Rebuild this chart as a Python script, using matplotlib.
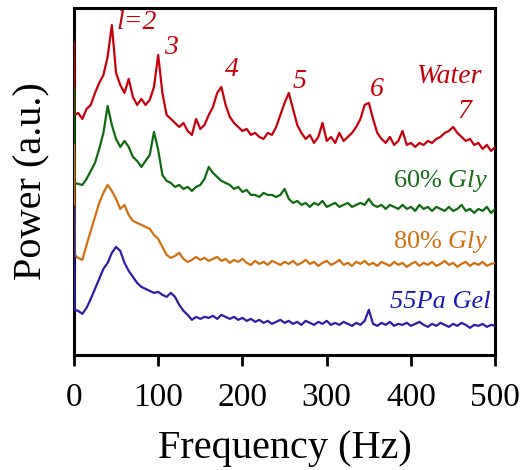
import numpy as np
import matplotlib
matplotlib.use('Agg')
import matplotlib.pyplot as plt

plt.rcParams['font.family'] = ['Liberation Serif', 'DejaVu Serif']
plt.rcParams['mathtext.fontset'] = 'custom'
plt.rcParams['mathtext.rm'] = 'Liberation Serif'
plt.rcParams['mathtext.it'] = 'Liberation Serif:italic'

# frequency grid (Hz): DC point, 1 Hz, then every 5 Hz
freq = np.concatenate([[0.0, 1.0], np.arange(5, 501, 5)])

# power spectra (a.u., already offset for stacking)
water = [313, 240,
         242, 236, 246, 250, 262, 272, 280, 298, 330, 282,
         270, 262, 276, 258, 250, 256, 250, 255, 268, 300,
         262, 240, 236, 232, 228, 232, 224, 220, 236, 226,
         230, 240, 248, 262, 268, 250, 238, 232, 228, 224,
         226, 220, 222, 218, 216, 222, 220, 228, 240, 252,
         262, 246, 230, 222, 216, 220, 212, 218, 232, 214,
         218, 212, 222, 214, 218, 222, 228, 236, 250, 252,
         236, 222, 216, 212, 218, 210, 214, 224, 210, 212,
         208, 212, 210, 214, 212, 216, 218, 222, 224, 228,
         222, 218, 214, 216, 210, 212, 206, 210, 204, 208]
gly60 = [268, 172,
         171, 170, 176, 184, 192, 206, 222, 249, 230, 216,
         208, 214, 208, 198, 194, 188, 194, 200, 223, 205,
         180, 174, 172, 168, 170, 166, 168, 164, 168, 170,
         176, 188, 182, 178, 174, 172, 170, 166, 168, 163,
         165, 160, 160, 158, 162, 160, 160, 158, 160, 166,
         156, 152, 154, 150, 152, 148, 152, 150, 154, 148,
         150, 152, 148, 150, 152, 148, 150, 152, 150, 156,
         150, 148, 150, 146, 150, 148, 146, 150, 146, 148,
         144, 150, 146, 148, 144, 148, 146, 144, 148, 144,
         146, 150, 144, 146, 142, 146, 144, 148, 142, 146]
gly80 = [210, 100,
         97, 95, 110, 124, 138, 152, 162, 170, 164, 156,
         146, 150, 140, 134, 132, 130, 128, 126, 120, 116,
         108, 100, 97, 99, 102, 96, 93, 95, 98, 95,
         97, 94, 96, 98, 94, 96, 92, 95, 93, 96,
         92, 90, 94, 91, 93, 90, 94, 92, 90, 93,
         91, 94, 90, 92, 95, 91, 93, 89, 92, 94,
         90, 92, 95, 90, 92, 89, 93, 91, 94, 90,
         92, 89, 93, 91, 89, 93, 90, 92, 88, 91,
         93, 89, 92, 90, 93, 89, 91, 94, 90, 92,
         88, 91, 93, 89, 92, 90, 93, 89, 91, 92]
gel55 = [148, 45,
         44, 41, 47, 56, 66, 76, 86, 92, 102, 108,
         104, 92, 84, 78, 72, 68, 66, 64, 62, 63,
         60, 58, 62, 58, 50, 44, 40, 35, 38, 36,
         38, 37, 39, 36, 40, 38, 36, 38, 35, 37,
         34, 36, 33, 35, 32, 34, 31, 33, 35, 32,
         34, 31, 33, 30, 34, 32, 30, 33, 31, 34,
         30, 32, 30, 33, 31, 29, 32, 30, 34, 45,
         31, 29, 32, 30, 33, 29, 31, 30, 32, 29,
         31, 33, 30, 28, 31, 29, 32, 30, 28, 31,
         29, 32, 30, 27, 30, 29, 31, 28, 30, 29]

series = [water, gly60, gly80, gel55]
colorsToUse = ['#c8000c', '#106a10', '#d2700c', '#2a1ea8']

# mode labels on the water spectrum
modeLabels = ['l=2', '3', '4', '5', '6', '7']
modeX = [51, 115, 187, 268, 360, 463]
modeY = [332, 307, 285, 273, 265, 243]
modeHa = ['left', 'center', 'center', 'center', 'center', 'center']

fig = plt.figure(figsize=(5.28, 4.70), dpi=100)
ax = fig.add_axes([0.140, 0.245, 0.798, 0.738])

for vals, c in zip(series, colorsToUse):
    ax.plot(freq, vals, color=c, lw=1.6, zorder=3)

for lab, mx, my, ha in zip(modeLabels, modeX, modeY, modeHa):
    ax.text(mx, my, lab, color='#c8000c', fontsize=20, style='italic',
            ha=ha, va='center')

ax.text(484, 278, 'Water', color='#c8000c', fontsize=20, style='italic',
        ha='right', va='center')
ax.text(492, 174, r'60% $\mathit{Gly}$', color='#1a6b1a', fontsize=19,
        ha='right', va='center')
ax.text(492, 113, r'80% $\mathit{Gly}$', color='#d2700c', fontsize=19,
        ha='right', va='center')
ax.text(494, 53, '55Pa Gel', color='#1a1ab4', fontsize=19, style='italic',
        ha='right', va='center')

ax.set_xlim(0, 500)
ax.set_ylim(0, 347)
ax.set_xticks([0, 100, 200, 300, 400, 500])
ax.set_yticks([])
ax.tick_params(axis='x', direction='out', length=8, width=2, labelsize=24, pad=12)
for s in ax.spines.values():
    s.set_linewidth(2.2)

ax.set_xlabel('Frequency (Hz)', fontsize=29, labelpad=12)
ax.set_ylabel('Power (a.u.)', fontsize=29, labelpad=17)

fig.savefig('out.png', dpi=100)
